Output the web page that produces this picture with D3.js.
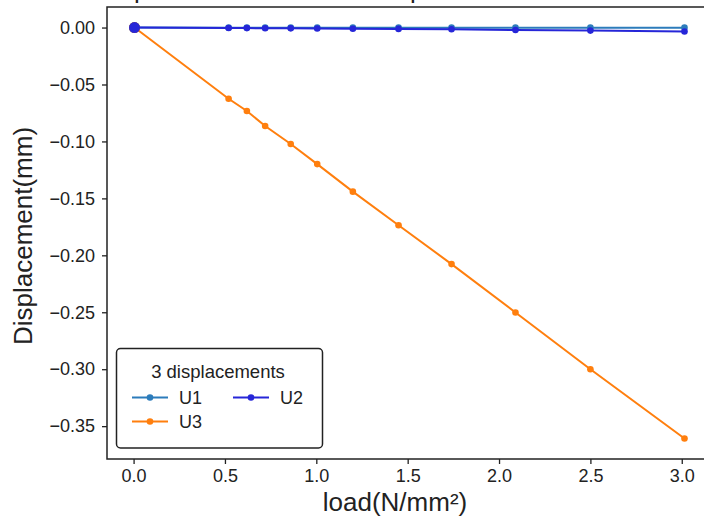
<!DOCTYPE html>
<html>
<head>
<meta charset="utf-8">
<script src="https://cdn.jsdelivr.net/npm/d3@7"></script>
<style>
  html, body { margin: 0; padding: 0; background: #fff; }
  svg { display: block; }
  text { font-family: "Liberation Sans", Arial, sans-serif; fill: #222; }
</style>
</head>
<body>
<svg id="chart" width="704" height="521"></svg>
<script>
// Applied load steps (N/mm²)
const loads = [0.005, 0.52, 0.62, 0.72, 0.86, 1.005, 1.20, 1.45, 1.74, 2.09, 2.50, 3.015];
// Displacement components (mm) at each load step
const u1 = [0, -0.0001, -0.0001, -0.0001, -0.0001, -0.0001, -0.0001, -0.0001, -0.0001, -0.0001, -0.0001, -0.0001];
const u2 = [0, -0.0004, -0.0005, -0.0006, -0.0007, -0.0008, -0.0010, -0.0012, -0.0015, -0.0022, -0.0027, -0.0035];
const u3 = [0, -0.0625, -0.0733, -0.0865, -0.1023, -0.1199, -0.1441, -0.1736, -0.2077, -0.2502, -0.3001, -0.3608];
const seriesNames = ["U1", "U2", "U3"];
const seriesColors = ["#2c7cbb", "#2626d8", "#ff7f0e"];
const xTicks = [0.0, 0.5, 1.0, 1.5, 2.0, 2.5, 3.0];
const yTicks = [0.00, -0.05, -0.10, -0.15, -0.20, -0.25, -0.30, -0.35];

const series = [u1, u2, u3].map((vals, i) => ({
  name: seriesNames[i], color: seriesColors[i],
  points: vals.map((v, j) => ({ x: loads[j], y: v }))
}));

const svg = d3.select("#chart");
const plot = { left: 107, right: 712, top: 7, bottom: 459 };

function padded(ext) {
  const p = (ext[1] - ext[0]) * 0.05;
  return [ext[0] - p, ext[1] + p];
}
const allY = u1.concat(u2, u3);
const x = d3.scaleLinear().domain(padded(d3.extent(loads))).range([plot.left, plot.right]);
const y = d3.scaleLinear().domain(padded(d3.extent(allY))).range([plot.bottom, plot.top]);

// Title, mostly above the top edge of the figure
const title = svg.append("text")
  .attr("x", 0).attr("y", -2.5)
  .style("font-size", "26px")
  .text("Displacement under uniform pressure");
{
  const node = title.node();
  const str = node.textContent;
  const i1 = str.indexOf("p"), i2 = str.lastIndexOf("p");
  const d0 = node.getStartPositionOfChar(i2).x - node.getStartPositionOfChar(i1).x;
  const ls = (276 - d0) / (i2 - i1);
  title.style("letter-spacing", ls + "px");
  const p1 = node.getStartPositionOfChar(i1).x;
  title.attr("x", 134 - p1);
}

// Axes
const fmtY = v => (v < 0 ? "\u2212" : "") + Math.abs(v).toFixed(2);
const xAxis = d3.axisBottom(x).tickValues(xTicks).tickFormat(d3.format(".1f")).tickSize(5).tickPadding(5);
const yAxis = d3.axisLeft(y).tickValues(yTicks).tickFormat(fmtY).tickSize(5).tickPadding(7);

const gx = svg.append("g").attr("transform", `translate(0,${plot.bottom})`).call(xAxis);
const gy = svg.append("g").attr("transform", `translate(${plot.left},0)`).call(yAxis);
[gx, gy].forEach(g => {
  g.select(".domain").remove();
  g.selectAll(".tick line").attr("stroke", "#222").attr("stroke-width", 1.3);
  g.selectAll(".tick text").style("font-size", "18px").style("font-family", "'Liberation Sans', Arial, sans-serif").attr("fill", "#222");
});

// Frame
svg.append("rect")
  .attr("x", plot.left).attr("y", plot.top)
  .attr("width", plot.right - plot.left).attr("height", plot.bottom - plot.top)
  .attr("fill", "none").attr("stroke", "#222").attr("stroke-width", 1.5);

// Axis labels
svg.append("text")
  .attr("x", 395).attr("y", 511)
  .attr("text-anchor", "middle").style("font-size", "26px")
  .text("load(N/mm²)");
svg.append("text")
  .attr("transform", `translate(32,236) rotate(-90)`)
  .attr("text-anchor", "middle").style("font-size", "26px")
  .text("Displacement(mm)");

// Lines and markers
const line = d3.line().x(d => x(d.x)).y(d => y(d.y));
const drawOrder = [0, 2, 1];
drawOrder.forEach(i => {
  const s = series[i];
  const g = svg.append("g");
  g.append("path").datum(s.points).attr("d", line)
    .attr("fill", "none").attr("stroke", s.color).attr("stroke-width", 2);
  g.selectAll("circle").data(s.points).join("circle")
    .attr("cx", d => x(d.x)).attr("cy", d => y(d.y))
    .attr("r", (d, j) => j === 0 ? 5.5 : 3.3)
    .attr("fill", s.color);
});

// Legend
const lg = svg.append("g");
lg.append("rect").attr("x", 116.5).attr("y", 348.5).attr("width", 206).attr("height", 99.5)
  .attr("rx", 4).attr("fill", "#fff").attr("stroke", "#222").attr("stroke-width", 1.5);
lg.append("text").attr("x", 218).attr("y", 378).attr("text-anchor", "middle")
  .style("font-size", "18.5px").text("3 displacements");
const legendPos = [
  { i: 0, x: 132, y: 397.5 },
  { i: 1, x: 233, y: 397.5 },
  { i: 2, x: 132, y: 421.5 }
];
legendPos.forEach(p => {
  const s = series[p.i];
  lg.append("line").attr("x1", p.x).attr("x2", p.x + 36).attr("y1", p.y).attr("y2", p.y)
    .attr("stroke", s.color).attr("stroke-width", 2);
  lg.append("circle").attr("cx", p.x + 18).attr("cy", p.y).attr("r", 3.3).attr("fill", s.color);
  lg.append("text").attr("x", p.x + 47).attr("y", p.y + 6.5)
    .style("font-size", "18px").text(s.name);
});
</script>
</body>
</html>
